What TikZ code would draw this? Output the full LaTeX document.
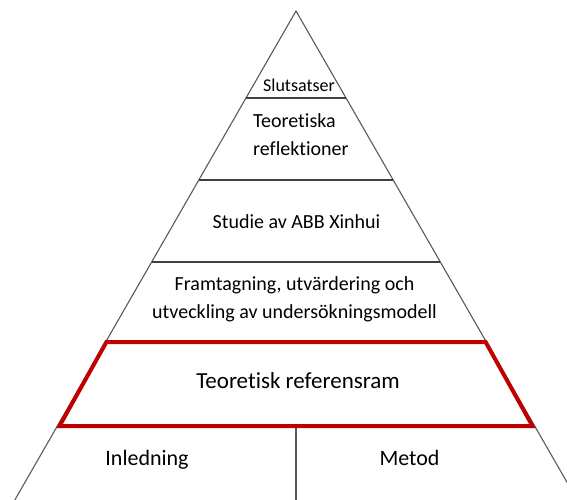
\documentclass[tikz,border=0pt]{standalone}
\usepackage{fontspec}
\setmainfont{Carlito}[Ligatures=NoCommon]
\begin{document}
\begin{tikzpicture}[x=1pt,y=-1pt,
  edge/.style={draw=black!65,line width=1.1pt},
  tier/.style={draw=black!75,line width=1.1pt},
  focus/.style={draw={rgb,255:red,192;green,0;blue,0},line width=4pt,line join=miter},
  lbl/.style={anchor=base,inner sep=0pt,font=\fontsize{20}{28}\selectfont,align=center}]
  % canvas
  \useasboundingbox (0,0) rectangle (567,500);
  \begin{scope}
    \clip (0,0) rectangle (567,500);
    % pyramid outline: apex and the two flanks (slope 0.575 px per px)
    \coordinate (apex) at (296,11);
    \coordinate (bl) at (296-281.2,500);
    \coordinate (br) at (296+281.2,500);
    \draw[edge] (bl) -- (apex) -- (br);
    % tier boundaries
    \draw[tier] (296-50.0,98) -- (296+50.0,98);
    \draw[tier] (296-97.2,180) -- (296+97.2,180);
    \draw[tier] (296-144.3,262) -- (296+144.3,262);
    % base split
    \coordinate (mtop) at (296,426);
    \coordinate (mbot) at (296,500);
    \draw[edge] (mtop) -- (mbot);
    % highlighted tier
    \draw[focus] (296-189.6,342) -- (296+189.6,342) -- (296+236.5,426) -- (296-236.5,426) -- cycle;
  \end{scope}
  % labels (two-line labels are anchored on their last baseline)
  \node[lbl,font=\fontsize{18}{22}\selectfont] (slut) at (299,92) {Slutsatser};
  \node[lbl,anchor=base west,align=left] (teo) at (253,155) {Teoretiska\\reflektioner};
  \node[lbl] (studie) at (296.5,228) {Studie av ABB Xinhui};
  \node[lbl] (fram) at (294.5,318) {Framtagning, utvärdering och\\utveckling av undersökningsmodell};
  \node[lbl,font=\fontsize{23}{28}\selectfont] (ref) at (298,388) {Teoretisk referensram};
  \node[lbl,font=\fontsize{22}{28}\selectfont] (inl) at (147,465) {Inledning};
  \node[lbl,font=\fontsize{22}{28}\selectfont] (met) at (409.5,465) {Metod};
\end{tikzpicture}
\end{document}
